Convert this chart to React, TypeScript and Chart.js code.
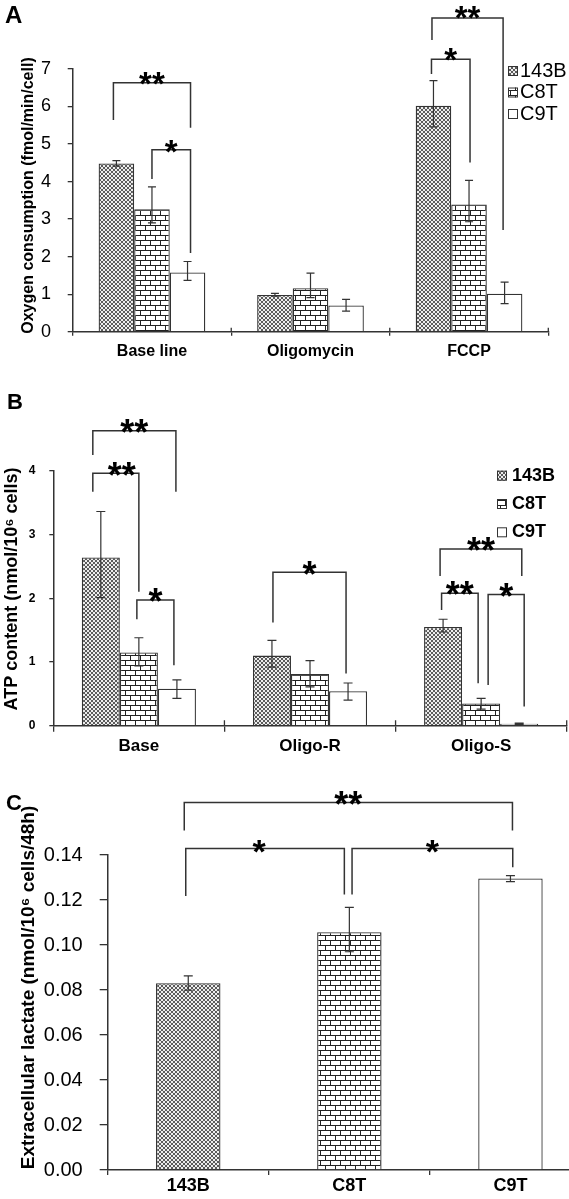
import React, { useEffect, useRef } from "react";
import { Chart, registerables } from "chart.js";

Chart.register(...registerables);

const FONT = "'Liberation Sans', Arial, 'DejaVu Sans', sans-serif";
const INK = "#333333";

// ---------------- data ----------------
const seriesNames = ["143B", "C8T", "C9T"];

// Panel A: oxygen consumption (fmol/min/cell)
const categoriesA = ["Base line", "Oligomycin", "FCCP"];
const oxygen143B = [4.48, 0.98, 6.02];
const oxygen143BLow = [4.41, 0.95, 5.46];
const oxygen143BHigh = [4.56, 1.02, 6.69];
const oxygenC8T = [3.26, 1.16, 3.39];
const oxygenC8TLow = [2.9, 0.91, 2.93];
const oxygenC8THigh = [3.86, 1.56, 4.03];
const oxygenC9T = [1.58, 0.7, 1.01];
const oxygenC9TLow = [1.37, 0.55, 0.75];
const oxygenC9THigh = [1.87, 0.86, 1.32];
const yTicksA = [0, 1, 2, 3, 4, 5, 6, 7];
const yTickLabelsA = ["0", "1", "2", "3", "4", "5", "6", "7"];

// Panel B: ATP content (nmol/10^6 cells)
const categoriesB = ["Base", "Oligo-R", "Oligo-S"];
const atp143B = [2.64, 1.1, 1.55];
const atp143BLow = [2.01, 0.92, 1.47];
const atp143BHigh = [3.36, 1.34, 1.67];
const atpC8T = [1.15, 0.81, 0.35];
const atpC8TLow = [0.94, 0.61, 0.26];
const atpC8THigh = [1.38, 1.02, 0.43];
const atpC9T = [0.58, 0.54, 0.03];
const atpC9TLow = [0.43, 0.4, 0.02];
const atpC9THigh = [0.72, 0.67, 0.04];
const yTicksB = [0, 1, 2, 3, 4];
const yTickLabelsB = ["0", "1", "2", "3", "4"];

// Panel C: extracellular lactate (nmol/10^6 cells/48h)
const categoriesC = ["143B", "C8T", "C9T"];
const lactate = [0.083, 0.1057, 0.1296];
const lactateLow = [0.0799, 0.097, 0.1282];
const lactateHigh = [0.0863, 0.1167, 0.1308];
const yTicksC = [0, 0.02, 0.04, 0.06, 0.08, 0.1, 0.12, 0.14];
const yTickLabelsC = ["0.00", "0.02", "0.04", "0.06", "0.08", "0.10", "0.12", "0.14"];

// significance brackets: endpoints are [datasetIndex, dataIndex]; levels in data units
type Br = {
  a: [number, number];
  b: [number, number];
  dxA: number;
  dxB: number;
  top: number;
  dropA: number;
  dropB: number;
  text: string;
  textY: number;
  size: number;
  textDx?: number;
};

const bracketsA: Br[] = [
  { a: [0, 0], b: [2, 0], dxA: -3, dxB: 3, top: 6.635, dropA: 5.64, dropB: 5.435, text: "**", textY: 6.86, size: 33 },
  { a: [1, 0], b: [2, 0], dxA: 0, dxB: 3, top: 4.85, dropA: 4.07, dropB: 2.1, text: "*", textY: 5.03, size: 33 },
  { a: [0, 2], b: [1, 2], dxA: -2, dxB: 1, top: 7.26, dropA: 6.87, dropB: 4.51, text: "*", textY: 7.5, size: 33 },
  { a: [0, 2], b: [2, 2], dxA: -1.5, dxB: -1.5, top: 8.36, dropA: 7.77, dropB: 2.71, text: "**", textY: 8.62, size: 33 },
];

const bracketsB: Br[] = [
  { a: [0, 0], b: [2, 0], dxA: -8, dxB: -1, top: 4.627, dropA: 4.246, dropB: 3.67, text: "**", textY: 4.75, size: 36 },
  { a: [0, 0], b: [1, 0], dxA: -8, dxB: 0, top: 3.96, dropA: 3.67, dropB: 2.1, text: "**", textY: 4.08, size: 36, textDx: 6 },
  { a: [1, 0], b: [2, 0], dxA: -2, dxB: -3, top: 1.97, dropA: 1.67, dropB: 0.95, text: "*", textY: 2.1, size: 36 },
  { a: [0, 1], b: [2, 1], dxA: 1, dxB: -2, top: 2.406, dropA: 1.62, dropB: 0.82, text: "*", textY: 2.52, size: 36 },
  { a: [0, 2], b: [2, 2], dxA: -3, dxB: 2.6, top: 2.77, dropA: 2.35, dropB: 2.35, text: "**", textY: 2.9, size: 36 },
  { a: [0, 2], b: [1, 2], dxA: -1.5, dxB: -3, top: 2.077, dropA: 1.815, dropB: 0.665, text: "**", textY: 2.207, size: 36 },
  { a: [1, 2], b: [2, 2], dxA: 7, dxB: 5, top: 2.06, dropA: 0.64, dropB: 0.3, text: "*", textY: 2.18, size: 36 },
];

const bracketsC: Br[] = [
  { a: [0, 0], b: [0, 2], dxA: -4, dxB: 2, top: 0.1633, dropA: 0.1509, dropB: 0.1509, text: "**", textY: 0.1667, size: 36 },
  { a: [0, 0], b: [0, 1], dxA: -2.5, dxB: -5, top: 0.1429, dropA: 0.1218, dropB: 0.1225, text: "*", textY: 0.1458, size: 34, textDx: -6 },
  { a: [0, 1], b: [0, 2], dxA: 2.7, dxB: 2.3, top: 0.1429, dropA: 0.1225, dropB: 0.1346, text: "*", textY: 0.1458, size: 34 },
];

// ---------------- patterns ----------------
function makeCross(ctx: CanvasRenderingContext2D) {
  const c = document.createElement("canvas");
  c.width = 4;
  c.height = 4;
  const g = c.getContext("2d")!;
  g.fillStyle = "#ececec";
  g.fillRect(0, 0, 4, 4);
  g.fillStyle = "#5a5a5a";
  for (let i = 0; i < 4; i++) {
    g.fillRect(i, i, 1, 1);
    g.fillRect(3 - i, i, 1, 1);
  }
  return ctx.createPattern(c, "repeat");
}

function makeBrick(ctx: CanvasRenderingContext2D) {
  const c = document.createElement("canvas");
  c.width = 10;
  c.height = 10;
  const g = c.getContext("2d")!;
  g.fillStyle = "#ffffff";
  g.fillRect(0, 0, 10, 10);
  g.fillStyle = "#222222";
  g.fillRect(0, 0, 10, 1);
  g.fillRect(0, 5, 10, 1);
  g.fillRect(0, 0, 1, 5);
  g.fillRect(5, 5, 1, 5);
  return ctx.createPattern(c, "repeat");
}

// ---------------- plugins ----------------
function errorBarsPlugin(cap: number) {
  return {
    id: "errorBars",
    afterDatasetsDraw(chart: any) {
      const { ctx } = chart;
      const ys = chart.scales.y;
      ctx.save();
      ctx.strokeStyle = INK;
      ctx.lineWidth = 1.2;
      chart.data.datasets.forEach((ds: any, di: number) => {
        const meta = chart.getDatasetMeta(di);
        meta.data.forEach((el: any, i: number) => {
          const x = el.x;
          const lo = ys.getPixelForValue(ds.errLow[i]);
          const hi = ys.getPixelForValue(ds.errHigh[i]);
          ctx.beginPath();
          ctx.moveTo(x, lo);
          ctx.lineTo(x, hi);
          ctx.moveTo(x - cap, lo);
          ctx.lineTo(x + cap, lo);
          ctx.moveTo(x - cap, hi);
          ctx.lineTo(x + cap, hi);
          ctx.stroke();
        });
      });
      ctx.restore();
    },
  };
}

type Decor = {
  letter: string;
  letterX: number;
  letterY: number;
  letterSize: number;
  title: string;
  titleX: number;
  titleY: number;
  titleSize: number;
  tickUp: number;
  brackets: Br[];
  legend?: { x: number; textX: number; ys: number[]; size: number; bold: boolean; box: number; fills: any[] };
};

function decorPlugin(d: Decor) {
  return {
    id: "decor",
    afterDraw(chart: any) {
      const { ctx } = chart;
      const xs = chart.scales.x;
      const ys = chart.scales.y;
      ctx.save();
      // upward part of category tick marks
      if (d.tickUp > 0) {
        const n = xs.ticks.length;
        ctx.strokeStyle = INK;
        ctx.lineWidth = 1.3;
        ctx.beginPath();
        for (let i = 1; i <= n; i++) {
          const x = xs.left + (i * (xs.right - xs.left)) / n;
          ctx.moveTo(x, ys.bottom);
          ctx.lineTo(x, ys.bottom - d.tickUp);
        }
        ctx.stroke();
      }
      // significance brackets
      ctx.strokeStyle = INK;
      ctx.lineWidth = 1.5;
      d.brackets.forEach((br) => {
        const xA = chart.getDatasetMeta(br.a[0]).data[br.a[1]].x + br.dxA;
        const xB = chart.getDatasetMeta(br.b[0]).data[br.b[1]].x + br.dxB;
        const yT = ys.getPixelForValue(br.top);
        ctx.beginPath();
        ctx.moveTo(xA, ys.getPixelForValue(br.dropA));
        ctx.lineTo(xA, yT);
        ctx.lineTo(xB, yT);
        ctx.lineTo(xB, ys.getPixelForValue(br.dropB));
        ctx.stroke();
        ctx.fillStyle = "#000";
        ctx.font = `bold ${br.size}px ${FONT}`;
        ctx.textAlign = "center";
        ctx.textBaseline = "alphabetic";
        ctx.fillText(br.text, (xA + xB) / 2 + (br.textDx || 0), ys.getPixelForValue(br.textY) + 0.62 * br.size);
      });
      // legend
      if (d.legend) {
        const L = d.legend;
        chart.data.datasets.forEach((ds: any, i: number) => {
          const y = L.ys[i];
          ctx.fillStyle = L.fills[i];
          ctx.fillRect(L.x, y - L.box / 2, L.box, L.box);
          ctx.strokeStyle = INK;
          ctx.lineWidth = 1;
          ctx.strokeRect(L.x + 0.5, y - L.box / 2 + 0.5, L.box - 1, L.box - 1);
          ctx.fillStyle = "#000";
          ctx.font = `${L.bold ? "bold " : ""}${L.size}px ${FONT}`;
          ctx.textAlign = "left";
          ctx.textBaseline = "middle";
          ctx.fillText(ds.label, L.textX, y);
        });
      }
      // axis title
      ctx.fillStyle = "#000";
      ctx.font = `bold ${d.titleSize}px ${FONT}`;
      ctx.textAlign = "center";
      ctx.textBaseline = "middle";
      ctx.translate(d.titleX, d.titleY);
      ctx.rotate(-Math.PI / 2);
      ctx.fillText(d.title, 0, 0);
      ctx.restore();
      // panel letter
      ctx.save();
      ctx.fillStyle = "#000";
      ctx.font = `bold ${d.letterSize}px ${FONT}`;
      ctx.textAlign = "left";
      ctx.textBaseline = "alphabetic";
      ctx.fillText(d.letter, d.letterX, d.letterY);
      ctx.restore();
    },
  };
}

type AxisOpts = {
  yMax: number;
  yTicks: number[];
  yLabels: string[];
  yWidth: number;
  yTickLen: number;
  yPad: number;
  yFont: any;
  xHeight: number;
  xTickDown: number;
  xPad: number;
  xFont: number;
};

function scalesFor(o: AxisOpts) {
  return {
    x: {
      type: "category",
      offset: true,
      grid: { display: true, drawOnChartArea: false, drawTicks: true, tickLength: o.xTickDown, color: INK, lineWidth: 1.3, offset: true },
      border: { display: true, color: INK, width: 1.5 },
      ticks: { color: "#000", font: { family: FONT, size: o.xFont, weight: "bold" }, padding: o.xPad, maxRotation: 0, autoSkip: false },
      afterFit: (s: any) => {
        s.height = o.xHeight;
      },
    },
    y: {
      type: "linear",
      min: 0,
      max: o.yMax,
      afterBuildTicks: (s: any) => {
        s.ticks = o.yTicks.map((v) => ({ value: v }));
      },
      grid: { display: true, drawOnChartArea: false, drawTicks: true, tickLength: o.yTickLen, color: INK, lineWidth: 1.3 },
      border: { display: true, color: INK, width: 1.5 },
      ticks: {
        color: "#000",
        font: o.yFont,
        padding: o.yPad,
        autoSkip: false,
        callback: (_v: any, i: number) => o.yLabels[i],
      },
      afterFit: (s: any) => {
        s.width = o.yWidth;
      },
    },
  };
}

const baseOptions = {
  responsive: false,
  animation: false,
  devicePixelRatio: 1,
  events: [],
  plugins: { legend: { display: false }, tooltip: { enabled: false } },
};

export default function App() {
  const refA = useRef<HTMLCanvasElement>(null);
  const refB = useRef<HTMLCanvasElement>(null);
  const refC = useRef<HTMLCanvasElement>(null);

  useEffect(() => {
    const charts: any[] = [];

    // ---------- Panel A ----------
    if (refA.current) {
      const ctx = refA.current.getContext("2d")!;
      const fills = [makeCross(ctx), makeBrick(ctx), "#ffffff"];
      const values = [oxygen143B, oxygenC8T, oxygenC9T];
      const lows = [oxygen143BLow, oxygenC8TLow, oxygenC9TLow];
      const highs = [oxygen143BHigh, oxygenC8THigh, oxygenC9THigh];
      charts.push(
        new Chart(refA.current, {
          type: "bar",
          data: {
            labels: categoriesA,
            datasets: seriesNames.map((name, k) => ({
              label: name,
              data: values[k],
              errLow: lows[k],
              errHigh: highs[k],
              backgroundColor: fills[k],
              borderColor: INK,
              borderWidth: 1.3,
              categoryPercentage: 0.673,
              barPercentage: 1,
            })),
          } as any,
          options: {
            ...baseOptions,
            layout: { padding: { left: 0, right: 20.7, top: 69, bottom: 3.3 } },
            scales: scalesFor({
              yMax: 7,
              yTicks: yTicksA,
              yLabels: yTickLabelsA,
              yWidth: 72.7,
              yTickLen: 5,
              yPad: 16.7,
              yFont: { family: FONT, size: 18 },
              xHeight: 30,
              xTickDown: 4,
              xPad: 6.4,
              xFont: 16,
            }),
          } as any,
          plugins: [
            errorBarsPlugin(4),
            decorPlugin({
              letter: "A",
              letterX: 5,
              letterY: 23,
              letterSize: 24,
              title: "Oxygen consumption (fmol/min/cell)",
              titleX: 29,
              titleY: 195.5,
              titleSize: 16,
              tickUp: 4,
              brackets: bracketsA,
              legend: { x: 508, textX: 520, ys: [71, 92.5, 114], size: 20, bold: false, box: 10, fills },
            }),
          ],
        } as any)
      );
    }

    // ---------- Panel B ----------
    if (refB.current) {
      const ctx = refB.current.getContext("2d")!;
      const fills = [makeCross(ctx), makeBrick(ctx), "#ffffff"];
      const values = [atp143B, atpC8T, atpC9T];
      const lows = [atp143BLow, atpC8TLow, atpC9TLow];
      const highs = [atp143BHigh, atpC8THigh, atpC9THigh];
      charts.push(
        new Chart(refB.current, {
          type: "bar",
          data: {
            labels: categoriesB,
            datasets: seriesNames.map((name, k) => ({
              label: name,
              data: values[k],
              errLow: lows[k],
              errHigh: highs[k],
              backgroundColor: fills[k],
              borderColor: INK,
              borderWidth: 1.3,
              categoryPercentage: 0.667,
              barPercentage: 1,
            })),
          } as any,
          options: {
            ...baseOptions,
            layout: { padding: { left: 0, right: 2.3, top: 105.7, bottom: 4.3 } },
            scales: scalesFor({
              yMax: 4,
              yTicks: yTicksB,
              yLabels: yTickLabelsB,
              yWidth: 53.3,
              yTickLen: 4,
              yPad: 14,
              yFont: { family: FONT, size: 12, weight: "bold" },
              xHeight: 30,
              xTickDown: 6,
              xPad: 4.1,
              xFont: 17,
            }),
          } as any,
          plugins: [
            errorBarsPlugin(4.5),
            decorPlugin({
              letter: "B",
              letterX: 7,
              letterY: 44,
              letterSize: 22,
              title: "ATP content (nmol/10\u2076 cells)",
              titleX: 12.5,
              titleY: 224,
              titleSize: 18,
              tickUp: 5.5,
              brackets: bracketsB,
              legend: { x: 497, textX: 512, ys: [110.7, 139, 167.3], size: 18, bold: true, box: 10, fills },
            }),
          ],
        } as any)
      );
    }

    // ---------- Panel C ----------
    if (refC.current) {
      const ctx = refC.current.getContext("2d")!;
      const fills = [makeCross(ctx), makeBrick(ctx), "#ffffff"];
      charts.push(
        new Chart(refC.current, {
          type: "bar",
          data: {
            labels: categoriesC,
            datasets: [
              {
                label: "Extracellular lactate",
                data: lactate,
                errLow: lactateLow,
                errHigh: lactateHigh,
                backgroundColor: fills,
                borderColor: INK,
                borderWidth: 1.3,
                categoryPercentage: 0.4,
                barPercentage: 1,
              },
            ],
          } as any,
          options: {
            ...baseOptions,
            layout: { padding: { left: 0, right: 9, top: 95, bottom: 2 } },
            scales: scalesFor({
              yMax: 0.14,
              yTicks: yTicksC,
              yLabels: yTickLabelsC,
              yWidth: 107.7,
              yTickLen: 8,
              yPad: 17,
              yFont: { family: FONT, size: 20 },
              xHeight: 22,
              xTickDown: 5,
              xPad: 0,
              xFont: 18,
            }),
          } as any,
          plugins: [
            errorBarsPlugin(4.5),
            decorPlugin({
              letter: "C",
              letterX: 6,
              letterY: 50,
              letterSize: 22,
              title: "Extracellular lactate (nmol/10\u2076 cells/48h)",
              titleX: 29,
              titleY: 227.5,
              titleSize: 19,
              tickUp: 0,
              brackets: bracketsC,
            }),
          ],
        } as any)
      );
    }

    return () => {
      charts.forEach((c) => c.destroy());
    };
  }, []);

  return (
    <div
      style={{
        position: "absolute",
        left: 0,
        top: 0,
        width: 569,
        height: 1199,
        overflow: "hidden",
        background: "#ffffff",
      }}
    >
      <canvas ref={refA} width={569} height={365} style={{ position: "absolute", left: 0, top: 0, width: 569, height: 365 }} />
      <canvas ref={refB} width={569} height={395} style={{ position: "absolute", left: 0, top: 365, width: 569, height: 395 }} />
      <canvas ref={refC} width={600} height={439} style={{ position: "absolute", left: 0, top: 760, width: 600, height: 439 }} />
    </div>
  );
}
